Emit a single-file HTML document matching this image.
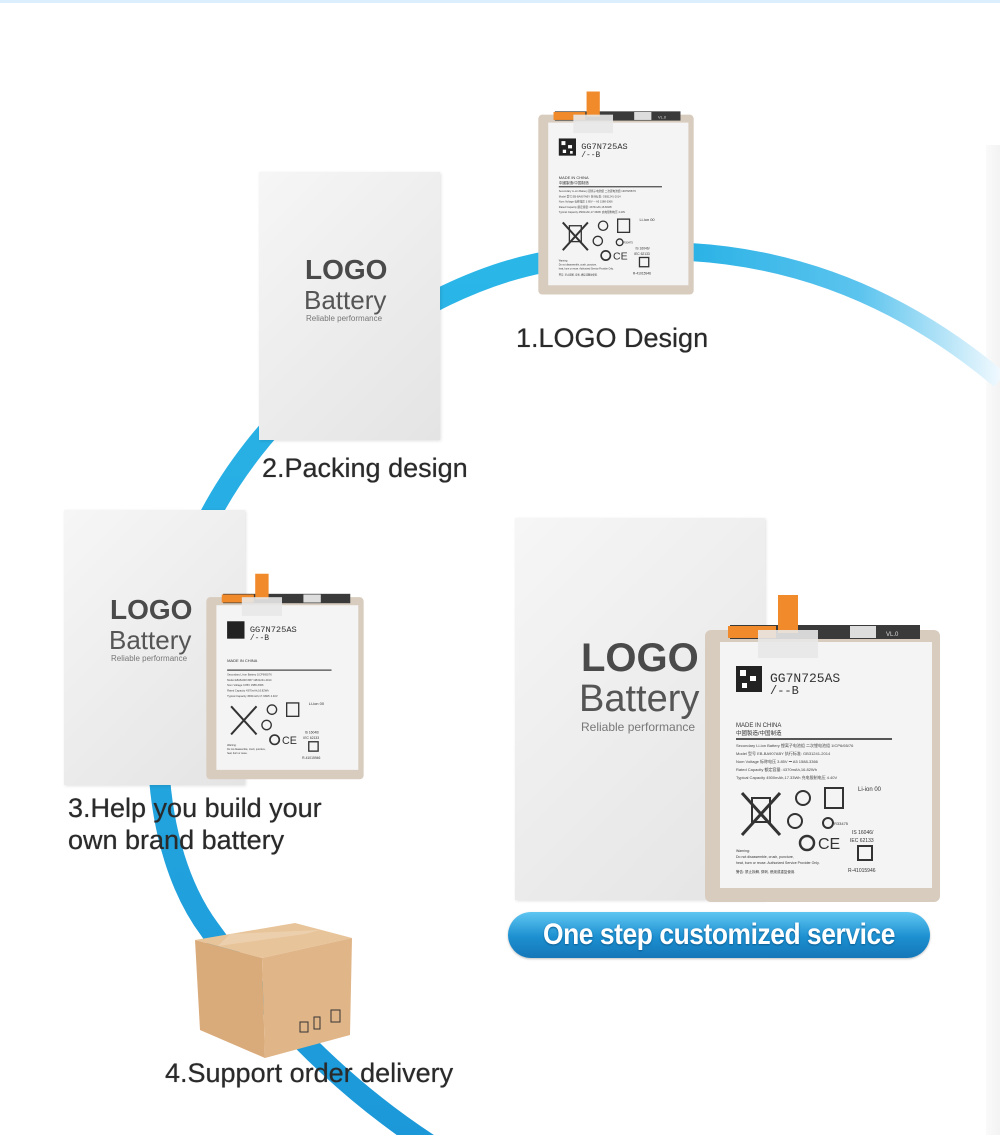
<!DOCTYPE html>
<html><head><meta charset="utf-8">
<style>
html,body{margin:0;padding:0;background:#fff}
#c{position:relative;width:1000px;height:1135px;overflow:hidden;background:#fff;font-family:"Liberation Sans","Noto Sans CJK SC",sans-serif}
.abs{position:absolute}
.lbl{position:absolute;color:#2a2a2a;font-size:27px;white-space:nowrap;letter-spacing:0px;text-shadow:0 0 0.6px #2a2a2a}
.box{position:absolute;background:linear-gradient(135deg,#f6f6f6,#ebebeb 60%,#e4e4e4);box-shadow:1px 1px 3px rgba(0,0,0,0.12)}
.box .t1{position:absolute;font-weight:bold;color:#4a4a4a}
.box .t2{position:absolute;color:#555}
.box .t3{position:absolute;color:#777}
</style></head><body><div id="c">
<div class="abs" style="left:0;top:0;width:1000px;height:3px;background:#dcefff"></div>
<div class="abs" style="left:986px;top:145px;width:14px;height:990px;background:linear-gradient(90deg,#fafafa,#f3f3f3)"></div>

<svg class="abs" style="left:0;top:0" width="1000" height="1135">
<defs>
<linearGradient id="arcg" x1="0" y1="0" x2="1" y2="0">
<stop offset="0" stop-color="#2ab2e6"/><stop offset="0.55" stop-color="#5cc4ee"/><stop offset="1" stop-color="#f0f9fe"/>
</linearGradient>
<linearGradient id="arcv" x1="0" y1="0" x2="0" y2="1">
<stop offset="0" stop-color="#2bb6e8"/><stop offset="1" stop-color="#1c98d8"/>
</linearGradient>
</defs>
<path d="M545 262 C420 285 250 400 190 560 C140 700 150 850 210 930 C260 1000 330 1080 430 1145" fill="none" stroke="url(#arcv)" stroke-width="21"/>
<path d="M690 252 Q860 262 1000 380" fill="none" stroke="url(#arcg)" stroke-width="18"/>
</svg>

<div class="box" style="left:259px;top:172px;width:181px;height:268px">
<div class="t1" style="left:46px;top:82px;font-size:28px">LOGO</div>
<div class="t2" style="left:45px;top:113px;font-size:26px">Battery</div>
<div class="t3" style="left:47px;top:142px;font-size:8px">Reliable performance</div>
</div>
<div class="lbl" style="left:262px;top:453px">2.Packing design</div>

<div class="box" style="left:64px;top:510px;width:181px;height:275px">
<div class="t1" style="left:46px;top:84px;font-size:28px">LOGO</div>
<div class="t2" style="left:45px;top:115px;font-size:26px">Battery</div>
<div class="t3" style="left:47px;top:144px;font-size:8px">Reliable performance</div>
</div>

<div class="box" style="left:515px;top:518px;width:250px;height:382px">
<div class="t1" style="left:66px;top:118px;font-size:40px">LOGO</div>
<div class="t2" style="left:64px;top:160px;font-size:38px">Battery</div>
<div class="t3" style="left:66px;top:202px;font-size:12px">Reliable performance</div>
</div>

<svg class="abs" style="left:535px;top:88px" width="162" height="212" viewBox="0 0 245 320">
<rect x="5" y="40" width="235" height="272" rx="6" fill="#d8ccbf"/>
<rect x="30" y="35" width="190" height="14" fill="#3a3a3a"/>
<rect x="150" y="36" width="26" height="12" fill="#ddd"/>
<text x="186" y="46" font-size="6" fill="#ddd" font-family="Liberation Sans">VL.0</text>
<rect x="28" y="36" width="48" height="12" fill="#f08a2a"/>
<rect x="78" y="5" width="20" height="38" fill="#f08a2a"/>
<rect x="20" y="52" width="212" height="246" fill="#f4f4f4"/>
<rect x="58" y="40" width="60" height="28" fill="#e8e8e8" opacity="0.9"/>
<rect x="36" y="76" width="26" height="26" fill="#222"/>
<rect x="40" y="80" width="6" height="6" fill="#fff"/><rect x="50" y="86" width="6" height="5" fill="#fff"/><rect x="42" y="93" width="5" height="5" fill="#fff"/><rect x="53" y="95" width="4" height="4" fill="#fff"/>
<text x="70" y="92" font-size="13" fill="#333" font-family="Liberation Mono">GG7N725AS</text>
<text x="70" y="104" font-size="12" fill="#333" font-family="Liberation Mono">/--B</text>
<text x="36" y="137" font-size="6" fill="#333" font-family="Liberation Sans">MADE IN CHINA</text>
<text x="36" y="145" font-size="5.5" fill="#333" font-family="Liberation Sans, Noto Sans CJK SC">中國製造/中国制造</text>
<rect x="36" y="148" width="156" height="2" fill="#555"/>
<g font-size="4" fill="#444" font-family="Liberation Sans, Noto Sans CJK SC">
<text x="36" y="157">Secondary Li-ion Battery 锂离子电池组 二次锂电池组       1ICP6/65/76</text>
<text x="36" y="165">Model 型号 EB-BA907ABY     执行标准: GB31241-2014</text>
<text x="36" y="173">Nom Voltage 标称电压 3.85V ⎓ A5     1588-3366</text>
<text x="36" y="181">Rated Capacity 额定容量: 4370mAh,16.82Wh</text>
<text x="36" y="189">Typical Capacity 4500mAh,17.33Wh 充电限制电压 4.40V</text>
</g>
<text x="158" y="201" font-size="6" fill="#333" font-family="Liberation Sans">Li-ion 00</text>
<path d="M42 203 L80 245 M80 203 L42 245" stroke="#333" stroke-width="3"/>
<rect x="52" y="208" width="18" height="24" fill="none" stroke="#333" stroke-width="2"/>
<circle cx="103" cy="208" r="7" fill="none" stroke="#333" stroke-width="2"/>
<rect x="125" y="198" width="18" height="20" fill="none" stroke="#333" stroke-width="2"/>
<circle cx="95" cy="231" r="7" fill="none" stroke="#333" stroke-width="2"/>
<circle cx="128" cy="233" r="5" fill="none" stroke="#333" stroke-width="2"/>
<text x="134" y="235" font-size="4" fill="#333" font-family="Liberation Sans">R33475</text>
<circle cx="107" cy="253" r="7" fill="none" stroke="#333" stroke-width="2.5"/>
<text x="118" y="259" font-size="16" fill="#333" font-family="Liberation Sans">CE</text>
<text x="152" y="244" font-size="5" fill="#333" font-family="Liberation Sans">IS 16046/</text>
<text x="150" y="252" font-size="5" fill="#333" font-family="Liberation Sans">IEC 62133</text>
<rect x="158" y="256" width="14" height="14" fill="none" stroke="#333" stroke-width="2"/>
<text x="148" y="282" font-size="5" fill="#333" font-family="Liberation Sans">R-41015946</text>
<g font-size="3.5" fill="#333" font-family="Liberation Sans, Noto Sans CJK SC">
<text x="36" y="262">Warning:</text>
<text x="36" y="268">Do not disassemble, crush, puncture,</text>
<text x="36" y="274">heat, burn or reuse. Authorized Service Provider Only.</text>
<text x="36" y="283">警告: 禁止拆解, 穿刺, 燃烧或重复使用.</text>
</g>
</svg>
<div class="lbl" style="left:516px;top:323px">1.LOGO Design</div>

<svg class="abs" style="left:203px;top:570px" width="164" height="215" viewBox="0 0 245 320">
<rect x="5" y="40" width="235" height="272" rx="6" fill="#d8ccbf"/>
<rect x="30" y="35" width="190" height="14" fill="#3a3a3a"/>
<rect x="150" y="36" width="26" height="12" fill="#ddd"/>
<rect x="28" y="36" width="48" height="12" fill="#f08a2a"/>
<rect x="78" y="5" width="20" height="38" fill="#f08a2a"/>
<rect x="20" y="52" width="212" height="246" fill="#f4f4f4"/>
<rect x="58" y="40" width="60" height="28" fill="#e8e8e8" opacity="0.9"/>
<rect x="36" y="76" width="26" height="26" fill="#222"/>
<text x="70" y="92" font-size="13" fill="#333" font-family="Liberation Mono">GG7N725AS</text>
<text x="70" y="104" font-size="12" fill="#333" font-family="Liberation Mono">/--B</text>
<text x="36" y="137" font-size="6" fill="#333" font-family="Liberation Sans">MADE IN CHINA</text>
<rect x="36" y="148" width="156" height="2" fill="#555"/>
<g font-size="4" fill="#444" font-family="Liberation Sans">
<text x="36" y="157">Secondary Li-ion Battery       1ICP6/65/76</text>
<text x="36" y="165">Model EB-BA907ABY     GB31241-2014</text>
<text x="36" y="173">Nom Voltage 3.85V     1588-3366</text>
<text x="36" y="181">Rated Capacity 4370mAh,16.82Wh</text>
<text x="36" y="189">Typical Capacity 4500mAh,17.33Wh 4.40V</text>
</g>
<text x="158" y="201" font-size="6" fill="#333" font-family="Liberation Sans">Li-ion 00</text>
<path d="M42 203 L80 245 M80 203 L42 245" stroke="#333" stroke-width="3"/>
<circle cx="103" cy="208" r="7" fill="none" stroke="#333" stroke-width="2"/>
<rect x="125" y="198" width="18" height="20" fill="none" stroke="#333" stroke-width="2"/>
<circle cx="95" cy="231" r="7" fill="none" stroke="#333" stroke-width="2"/>
<circle cx="107" cy="253" r="7" fill="none" stroke="#333" stroke-width="2.5"/>
<text x="118" y="259" font-size="16" fill="#333" font-family="Liberation Sans">CE</text>
<text x="152" y="244" font-size="5" fill="#333" font-family="Liberation Sans">IS 16046/</text>
<text x="150" y="252" font-size="5" fill="#333" font-family="Liberation Sans">IEC 62133</text>
<rect x="158" y="256" width="14" height="14" fill="none" stroke="#333" stroke-width="2"/>
<text x="148" y="282" font-size="5" fill="#333" font-family="Liberation Sans">R-41015946</text>
<g font-size="3.5" fill="#333" font-family="Liberation Sans"><text x="36" y="262">Warning:</text><text x="36" y="268">Do not disassemble, crush, puncture,</text><text x="36" y="274">heat, burn or reuse.</text></g>
</svg>
<div class="lbl" style="left:68px;top:792px;line-height:32px">3.Help you build your<br>own brand battery</div>

<svg class="abs" style="left:700px;top:590px" width="245" height="320" viewBox="0 0 245 320">
<rect x="5" y="40" width="235" height="272" rx="6" fill="#d8ccbf"/>
<rect x="30" y="35" width="190" height="14" fill="#3a3a3a"/>
<rect x="150" y="36" width="26" height="12" fill="#ddd"/>
<text x="186" y="46" font-size="6" fill="#ddd" font-family="Liberation Sans">VL.0</text>
<rect x="28" y="36" width="48" height="12" fill="#f08a2a"/>
<rect x="78" y="5" width="20" height="38" fill="#f08a2a"/>
<rect x="20" y="52" width="212" height="246" fill="#f4f4f4"/>
<rect x="58" y="40" width="60" height="28" fill="#e8e8e8" opacity="0.9"/>
<rect x="36" y="76" width="26" height="26" fill="#222"/>
<rect x="40" y="80" width="6" height="6" fill="#fff"/><rect x="50" y="86" width="6" height="5" fill="#fff"/><rect x="42" y="93" width="5" height="5" fill="#fff"/>
<text x="70" y="92" font-size="13" fill="#333" font-family="Liberation Mono">GG7N725AS</text>
<text x="70" y="104" font-size="12" fill="#333" font-family="Liberation Mono">/--B</text>
<text x="36" y="137" font-size="6" fill="#333" font-family="Liberation Sans">MADE IN CHINA</text>
<text x="36" y="145" font-size="5.5" fill="#333" font-family="Liberation Sans, Noto Sans CJK SC">中國製造/中国制造</text>
<rect x="36" y="148" width="156" height="2" fill="#555"/>
<g font-size="4" fill="#444" font-family="Liberation Sans, Noto Sans CJK SC">
<text x="36" y="157">Secondary Li-ion Battery 锂离子电池组 二次锂电池组       1ICP6/65/76</text>
<text x="36" y="165">Model 型号 EB-BA907ABY     执行标准: GB31241-2014</text>
<text x="36" y="173">Nom Voltage 标称电压 3.85V ⎓ A5     1588-3366</text>
<text x="36" y="181">Rated Capacity 额定容量: 4370mAh,16.82Wh</text>
<text x="36" y="189">Typical Capacity 4500mAh,17.33Wh 充电限制电压 4.40V</text>
</g>
<text x="158" y="201" font-size="6" fill="#333" font-family="Liberation Sans">Li-ion 00</text>
<path d="M42 203 L80 245 M80 203 L42 245" stroke="#333" stroke-width="3"/>
<rect x="52" y="208" width="18" height="24" fill="none" stroke="#333" stroke-width="2"/>
<circle cx="103" cy="208" r="7" fill="none" stroke="#333" stroke-width="2"/>
<rect x="125" y="198" width="18" height="20" fill="none" stroke="#333" stroke-width="2"/>
<circle cx="95" cy="231" r="7" fill="none" stroke="#333" stroke-width="2"/>
<circle cx="128" cy="233" r="5" fill="none" stroke="#333" stroke-width="2"/>
<text x="134" y="235" font-size="4" fill="#333" font-family="Liberation Sans">R33475</text>
<circle cx="107" cy="253" r="7" fill="none" stroke="#333" stroke-width="2.5"/>
<text x="118" y="259" font-size="16" fill="#333" font-family="Liberation Sans">CE</text>
<text x="152" y="244" font-size="5" fill="#333" font-family="Liberation Sans">IS 16046/</text>
<text x="150" y="252" font-size="5" fill="#333" font-family="Liberation Sans">IEC 62133</text>
<rect x="158" y="256" width="14" height="14" fill="none" stroke="#333" stroke-width="2"/>
<text x="148" y="282" font-size="5" fill="#333" font-family="Liberation Sans">R-41015946</text>
<g font-size="3.5" fill="#333" font-family="Liberation Sans, Noto Sans CJK SC">
<text x="36" y="262">Warning:</text>
<text x="36" y="268">Do not disassemble, crush, puncture,</text>
<text x="36" y="274">heat, burn or reuse. Authorized Service Provider Only.</text>
<text x="36" y="283">警告: 禁止拆解, 穿刺, 燃烧或重复使用.</text>
</g>
</svg>

<svg class="abs" style="left:0;top:0" width="1000" height="1135">
<polygon points="195,940 295,923 352,938 262,958" fill="#e8c49a"/>
<polygon points="195,940 262,958 265,1058 200,1030" fill="#d9ab7a"/>
<polygon points="262,958 352,938 350,1035 265,1058" fill="#e0b587"/>
<polygon points="230,934 320,930 305,934 218,946" fill="#ecd0ad"/>
<rect x="300" y="1022" width="8" height="10" fill="none" stroke="#333" stroke-width="1"/>
<rect x="314" y="1017" width="6" height="12" fill="none" stroke="#333" stroke-width="1"/>
<rect x="331" y="1010" width="9" height="12" fill="none" stroke="#333" stroke-width="1"/>
</svg>
<div class="lbl" style="left:165px;top:1058px">4.Support order delivery</div>

<div class="abs" style="left:508px;top:912px;width:422px;height:46px;border-radius:23px;background:linear-gradient(180deg,#5fc6f2,#1c8fd0 55%,#1577b8);box-shadow:0 1px 2px rgba(0,0,0,0.25)"></div>
<div class="abs" style="left:508px;top:912px;width:422px;height:46px;line-height:46px;text-align:center;color:#fff;font-weight:bold;font-size:30px;letter-spacing:-0.5px;transform:scaleX(0.88);text-shadow:0 1px 2px #0b5c90">One step customized service</div>
</div></body></html>
